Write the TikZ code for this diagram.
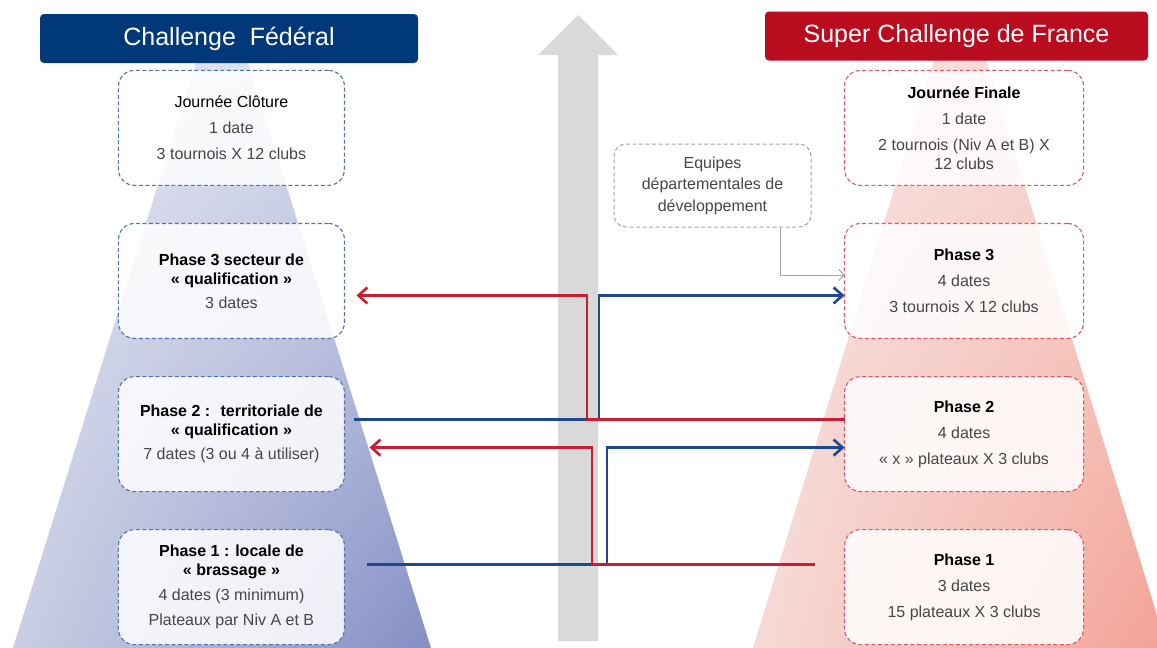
\documentclass[tikz,border=0pt]{standalone}
\usepackage{fontspec}
\setmainfont{Liberation Sans}
\usetikzlibrary{matrix,arrows.meta,positioning,shadings}

\definecolor{fedblue}{RGB}{0,56,122}
\definecolor{scfred}{RGB}{185,12,30}
\definecolor{bluebd}{RGB}{80,115,170}
\definecolor{redbd}{RGB}{225,85,100}
\definecolor{linkblue}{RGB}{30,72,145}
\definecolor{linkred}{RGB}{200,30,50}
\definecolor{txtgray}{RGB}{70,70,70}
\definecolor{shaftgray}{RGB}{217,217,217}
\definecolor{notegray}{RGB}{165,165,165}
% pyramid corners
\definecolor{fedul}{RGB}{232,234,244}
\definecolor{fedur}{RGB}{210,214,234}
\definecolor{fedll}{RGB}{202,206,228}
\definecolor{fedlr}{RGB}{132,142,196}
\definecolor{scful}{RGB}{248,230,230}
\definecolor{scfur}{RGB}{246,212,208}
\definecolor{scfll}{RGB}{246,218,215}
\definecolor{scflr}{RGB}{243,163,150}

\newcommand{\stagetitle}[1]{\textcolor{black}{\textbf{#1}}}

\tikzset{
  header/.style={rounded corners=4pt, minimum height=49pt, inner sep=0pt,
    text=white, font=\fontsize{25}{30}\selectfont},
  stage/.style={rounded corners=16pt, dash pattern=on 4pt off 2.5pt, line width=1.1pt,
    fill=white, fill opacity=0.85, text opacity=1, align=center, outer sep=0pt,
    minimum height=115pt, text=txtgray, font=\fontsize{16}{19}\selectfont},
  fedstage/.style={stage, draw=bluebd, minimum width=226pt},
  scfstage/.style={stage, draw=redbd, minimum width=239pt},
  note/.style={rounded corners=12pt, dash pattern=on 4pt off 2.5pt, line width=1pt,
    draw=notegray, fill=white, align=center, minimum width=197pt, minimum height=83pt,
    text=txtgray, font=\fontsize{16}{21.5}\selectfont},
  bluelink/.style={->, draw=linkblue, line width=2.6pt},
  redlink/.style={->, draw=linkred, line width=2.6pt},
  notelink/.style={-{Straight Barb[length=5pt,width=11pt]}, draw=notegray, line width=1pt}
}

\begin{document}
\begin{tikzpicture}[x=1pt, y=-1pt, >={Straight Barb[length=9pt,width=16pt]}]
  \useasboundingbox (0,0) rectangle (1157,648);

  % growth arrow and the two pyramids
  \fill[shaftgray] (558,641) -- (558,55) -- (538,55) -- (578,15) -- (618,55)
    -- (598,55) -- (598,641) -- cycle;
  \shade[upper left=fedul, upper right=fedur, lower left=fedll, lower right=fedlr]
    (196,63) -- (248,63) -- (431,648) -- (13,648) -- cycle;
  \shade[upper left=scful, upper right=scfur, lower left=scfll, lower right=scflr]
    (934,60) -- (986,60) -- (1157,615) -- (1157,648) -- (753,648) -- cycle;

  \node[header, fill=fedblue, minimum width=378pt] (fed) at (229,38.5) {Challenge~ Fédéral};
  \node[header, fill=scfred, minimum width=383pt] (scf) at (956.5,36) {Super Challenge de France};

  \matrix (m) [row sep=37pt, column sep=499pt] at (601,357.5)
  {
    \node[fedstage] (L0) {\textcolor{black}{Journée Clôture}\\[7pt] 1 date\\[7pt] 3 tournois X 12 clubs}; &
    \node[scfstage] (R0) {\stagetitle{Journée Finale}\\[7pt] 1 date\\[7pt] 2 tournois (Niv A et B) X\\ 12 clubs}; \\
    \node[fedstage] (L3) {\stagetitle{Phase 3 secteur de}\\ \stagetitle{« qualification »}\\[5pt] 3 dates}; &
    \node[scfstage] (R3) {\stagetitle{Phase 3}\\[7pt] 4 dates\\[7pt] 3 tournois X 12 clubs}; \\
    \node[fedstage] (L2) {\stagetitle{Phase 2 :~ territoriale de}\\ \stagetitle{« qualification »}\\[5pt] 7 dates (3 ou 4 à utiliser)}; &
    \node[scfstage] (R2) {\stagetitle{Phase 2}\\[7pt] 4 dates\\[7pt] « x » plateaux X 3 clubs}; \\
    \node[fedstage] (L1) {\stagetitle{Phase 1 : locale de}\\ \stagetitle{« brassage »}\\[6pt] 4 dates (3 minimum)\\[6pt] Plateaux par Niv A et B}; &
    \node[scfstage] (R1) {\stagetitle{Phase 1}\\[7pt] 3 dates\\[7pt] 15 plateaux X 3 clubs}; \\
  };

  \node[note] (dev) at (712.5,185.5) {Equipes\\départementales de\\développement};
  \draw[notelink] (dev.south -| 780,0) |- (R3.west |- 0,275);

  % passages between the two challenges
  \coordinate (tipL3) at ([xshift=12pt,yshift=-14.5pt]L3.east);
  \coordinate (tipR3) at ([yshift=-14.5pt]R3.west);
  \coordinate (tipL2) at ([xshift=25pt,yshift=-13.5pt]L2.east);
  \coordinate (tipR2) at ([yshift=-13.5pt]R2.west);
  \coordinate (outL2) at ([xshift=10pt,yshift=14.5pt]L2.east);
  \coordinate (outR2) at (R2.west |- outL2);
  \coordinate (b1start) at ([xshift=23pt,yshift=22.5pt]L1.east);
  \coordinate (r1start) at (b1start -| 815,0);
  \draw[bluelink] (outL2) -| (tipR3 -| 599,0) -- (tipR3);
  \draw[bluelink] (b1start) -| (tipR2 -| 607,0) -- (tipR2);
  \draw[redlink] (outR2) -| (tipL3 -| 587,0) -- (tipL3);
  \draw[redlink] (r1start) -| (tipL2 -| 592,0) -- (tipL2);
\end{tikzpicture}
\end{document}
